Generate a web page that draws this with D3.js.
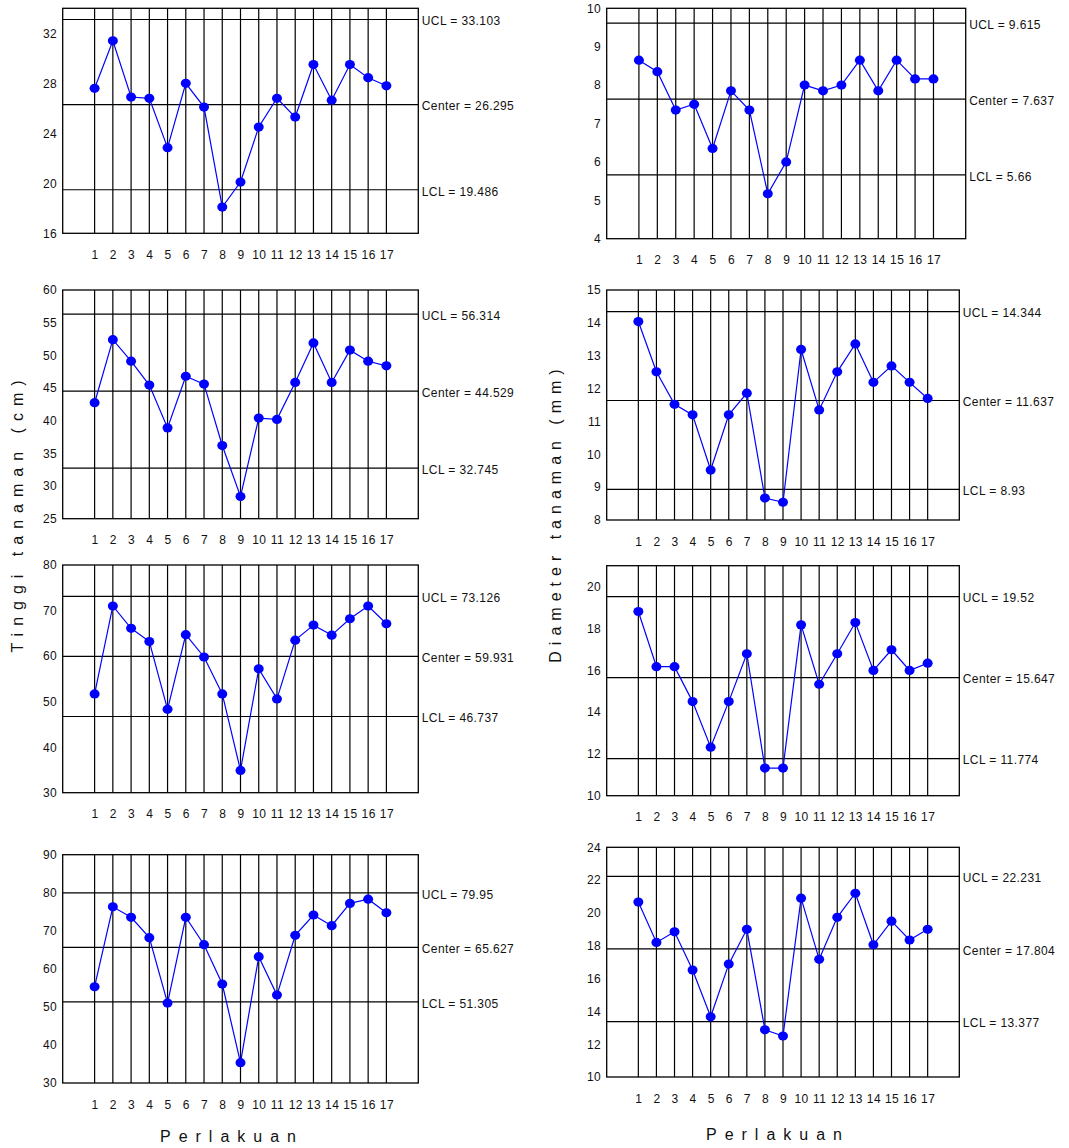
<!DOCTYPE html>
<html>
<head>
<meta charset="utf-8">
<script src="https://cdn.jsdelivr.net/npm/d3@7"></script>
<style>
  html, body { margin: 0; padding: 0; background: #fff; }
  svg text { font-family: "Liberation Sans", Arial, sans-serif; fill: #111; }
</style>
</head>
<body>
<svg id="chart" width="1069" height="1148"></svg>
<script>
// ---------------- DATA ----------------
const treatments = [1,2,3,4,5,6,7,8,9,10,11,12,13,14,15,16,17];

// Tinggi tanaman (cm) – four panels, left column
const tinggi1 = [27.6,31.4,26.9,26.8,22.85,28.0,26.1,18.1,20.1,24.5,26.8,25.3,29.5,26.65,29.5,28.45,27.8];
const tinggi2 = [42.75,52.4,49.1,45.45,38.9,46.8,45.6,36.2,28.4,40.4,40.2,45.85,51.9,45.85,50.8,49.1,48.4];
const tinggi3 = [51.7,71.0,66.1,63.2,48.3,64.7,59.8,51.7,34.9,57.2,50.6,63.5,66.8,64.6,68.2,71.0,67.1];
const tinggi4 = [55.3,76.3,73.55,68.2,51.0,73.55,66.35,56.0,35.35,63.2,53.1,68.8,74.15,71.35,77.2,78.3,74.75];

// Diameter tanaman (mm) – four panels, right column
const diam1 = [8.65,8.35,7.35,7.5,6.35,7.85,7.35,5.17,6.0,8.0,7.85,8.0,8.65,7.85,8.65,8.16,8.16];
const diam2 = [14.04,12.51,11.52,11.2,9.52,11.2,11.86,8.67,8.54,13.19,11.35,12.51,13.36,12.19,12.69,12.19,11.7];
const diam3 = [18.81,16.17,16.17,14.5,12.32,14.5,16.79,11.32,11.32,18.17,15.33,16.79,18.28,15.99,16.98,15.99,16.34];
const diam4 = [20.66,18.2,18.85,16.52,13.67,16.88,19.0,12.88,12.5,20.9,17.17,19.73,21.2,18.06,19.5,18.35,19.0];

// control limits
const tinggiUCL    = [33.103, 56.314, 73.126, 79.95];
const tinggiCenter = [26.295, 44.529, 59.931, 65.627];
const tinggiLCL    = [19.486, 32.745, 46.737, 51.305];
const diamUCL      = [9.615, 14.344, 19.52, 22.231];
const diamCenter   = [7.637, 11.637, 15.647, 17.804];
const diamLCL      = [5.66, 8.93, 11.774, 13.377];

// y axis ranges and tick steps
const tinggiYRange = [[16,34],[25,60],[30,80],[30,90]];
const tinggiYStep  = [4,5,10,10];
const diamYRange   = [[4,10],[8,15],[10,21],[10,24]];
const diamYStep    = [1,1,2,2];

const yTitleLeft  = "Tinggi tanaman (cm)";
const yTitleRight = "Diameter tanaman (mm)";
const xTitle      = "Perlakuan";

// ---------------- LAYOUT ----------------
const leftFrames = [
  {x0:62.7, x1:418.3, y0:8.3,   y1:233.3},
  {x0:62.7, x1:418.3, y0:290,   y1:518.7},
  {x0:62.7, x1:418.3, y0:565,   y1:792.7},
  {x0:62.7, x1:418.3, y0:854.7, y1:1083}
];
const rightFrames = [
  {x0:606.7, x1:965.7, y0:8.3,   y1:238.7},
  {x0:606.7, x1:959.3, y0:290,   y1:520},
  {x0:606.7, x1:959.3, y0:565.7, y1:795.7},
  {x0:606.7, x1:959.3, y0:847.3, y1:1077}
];

const svg = d3.select("#chart");
const BLUE = "#0000ff";
const FS = 12, LS = "0.4px";

function drawPanel(f, values, yRange, yStep, ucl, center, lcl) {
  const g = svg.append("g");
  const x = d3.scaleLinear().domain([-0.75, 18.75]).range([f.x0, f.x1]);
  const y = d3.scaleLinear().domain(yRange).range([f.y1, f.y0]);

  // frame
  g.append("rect")
    .attr("x", f.x0).attr("y", f.y0)
    .attr("width", f.x1 - f.x0).attr("height", f.y1 - f.y0)
    .attr("fill", "#fff").attr("stroke", "#000").attr("stroke-width", 1.3);

  // vertical grid lines per treatment
  g.selectAll("line.v").data(treatments).enter().append("line")
    .attr("x1", d => x(d)).attr("x2", d => x(d))
    .attr("y1", f.y0).attr("y2", f.y1)
    .attr("stroke", "#000").attr("stroke-width", 1.2);

  // control lines
  const limits = [["UCL", ucl], ["Center", center], ["LCL", lcl]];
  limits.forEach(([name, v]) => {
    g.append("line")
      .attr("x1", f.x0).attr("x2", f.x1)
      .attr("y1", y(v)).attr("y2", y(v))
      .attr("stroke", "#000").attr("stroke-width", 1.2);
    g.append("text")
      .attr("x", f.x1 + 3.5).attr("y", y(v) + 5.8)
      .attr("font-size", FS).attr("letter-spacing", LS)
      .text(name + " = " + v);
  });

  // y axis
  const ticks = d3.range(yRange[0], yRange[1] + 0.001, yStep);
  const ya = g.append("g").attr("transform", `translate(${f.x0},0)`)
    .call(d3.axisLeft(y).tickValues(ticks).tickSize(0).tickPadding(5.5).tickFormat(d3.format("d")));
  ya.select(".domain").remove();
  ya.selectAll("text").attr("font-size", FS).attr("letter-spacing", LS)
    .attr("font-family", "Liberation Sans, Arial, sans-serif").attr("fill", "#111");

  // x axis labels
  const xa = g.append("g").attr("transform", `translate(0,${f.y1})`)
    .call(d3.axisBottom(x).tickValues(treatments).tickSize(0).tickPadding(17).tickFormat(d3.format("d")));
  xa.select(".domain").remove();
  xa.selectAll("text").attr("font-size", FS).attr("letter-spacing", LS)
    .attr("font-family", "Liberation Sans, Arial, sans-serif").attr("fill", "#111");

  // series line
  const line = d3.line().x((d, i) => x(treatments[i])).y(d => y(d));
  g.append("path").datum(values)
    .attr("d", line).attr("fill", "none")
    .attr("stroke", BLUE).attr("stroke-width", 1.2);

  // points
  g.selectAll("ellipse.pt").data(values).enter().append("ellipse")
    .attr("cx", (d, i) => x(treatments[i])).attr("cy", d => y(d))
    .attr("rx", 5).attr("ry", 4.6)
    .attr("fill", BLUE);
}

const tinggiSeries = [tinggi1, tinggi2, tinggi3, tinggi4];
const diamSeries = [diam1, diam2, diam3, diam4];

tinggiSeries.forEach((vals, i) =>
  drawPanel(leftFrames[i], vals, tinggiYRange[i], tinggiYStep[i], tinggiUCL[i], tinggiCenter[i], tinggiLCL[i]));
diamSeries.forEach((vals, i) =>
  drawPanel(rightFrames[i], vals, diamYRange[i], diamYStep[i], diamUCL[i], diamCenter[i], diamLCL[i]));

// axis titles
svg.append("text")
  .attr("transform", "translate(23,513) rotate(-90)")
  .attr("text-anchor", "middle")
  .attr("font-size", 16).attr("letter-spacing", "7px")
  .text(yTitleLeft);
svg.append("text")
  .attr("transform", "translate(561,513) rotate(-90)")
  .attr("text-anchor", "middle")
  .attr("font-size", 16).attr("letter-spacing", "6px")
  .text(yTitleRight);

svg.append("text")
  .attr("x", 232).attr("y", 1142)
  .attr("text-anchor", "middle")
  .attr("font-size", 16).attr("letter-spacing", "8px")
  .text(xTitle);
svg.append("text")
  .attr("x", 778).attr("y", 1140)
  .attr("text-anchor", "middle")
  .attr("font-size", 16).attr("letter-spacing", "8px")
  .text(xTitle);
</script>
</body>
</html>
